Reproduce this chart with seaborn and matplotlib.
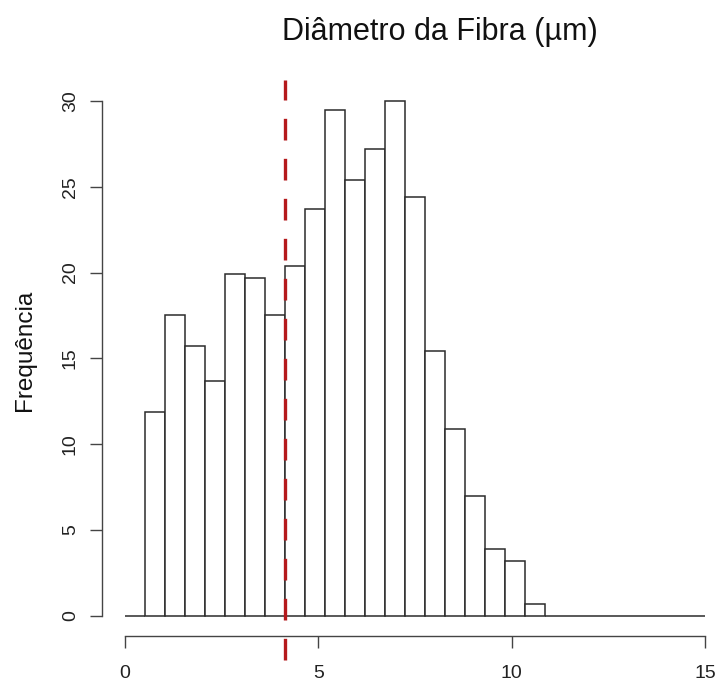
import numpy as np
import pandas as pd
import matplotlib
matplotlib.use("Agg")
import matplotlib.pyplot as plt
import seaborn as sns

# ---- data ----
bin_edges = list(np.linspace(0, 15, 30))    # 29 equal bins from 0 to 15
frequencies = [0, 11.9, 17.5, 15.7, 13.7, 19.9, 19.7, 17.5, 20.4, 23.7,
               29.5, 25.4, 27.2, 30.0, 24.4, 15.4, 10.9, 7.0, 3.9, 3.2,
               0.7, 0, 0, 0, 0, 0, 0, 0, 0]
mean_line = 4.14
x_ticks = [0, 5, 10, 15]
y_ticks = [0, 5, 10, 15, 20, 25, 30]
title = "Diâmetro da Fibra (µm)"
ylabel = "Frequência"

bin_mids = [(a + b) / 2 for a, b in zip(bin_edges[:-1], bin_edges[1:])]
df = pd.DataFrame({"diam": bin_mids, "freq": frequencies})

sns.set_theme(style="white")
plt.rcParams["font.family"] = ["Liberation Sans", "DejaVu Sans"]

W, H = 720, 686
fig = plt.figure(figsize=(W / 100, H / 100), dpi=100)
# axes region in pixels (R-style plot region)
left_px, right_px, top_px, bottom_px = 101.8, 728.2, 80.4, 636.3
ax = fig.add_axes([left_px / W, 1 - bottom_px / H,
                   (right_px - left_px) / W, (bottom_px - top_px) / H])

sns.histplot(data=df, x="diam", weights="freq", bins=bin_edges, ax=ax,
             color="white", edgecolor="#2b2b2b", linewidth=1.1, alpha=1,
             stat="count")

ax.axvline(mean_line, ymin=-0.043, ymax=1.0, color="#b5191c", lw=2.4,
           dashes=(6.5, 5.5), clip_on=False, zorder=5)

ax.set_xlim(-0.6, 15.6)
ax.set_ylim(-1.2, 31.2)
ax.set_xticks(x_ticks)
ax.set_yticks(y_ticks)
ax.set_xlabel("")
ax.set_ylabel(ylabel, fontsize=17.5, color="#111111")
ax.yaxis.set_label_coords(-(101.8 - 36) / (728.2 - 101.8), 0.515)

for s in ["top", "right"]:
    ax.spines[s].set_visible(False)
ax.spines["left"].set_bounds(0, 30)
ax.spines["bottom"].set_bounds(0, 15)
for s in ["left", "bottom"]:
    ax.spines[s].set_color("#444444")
    ax.spines[s].set_linewidth(1.0)

ax.tick_params(axis="both", direction="out", length=8.5, width=1.0,
               color="#444444", labelsize=14, labelcolor="#222222",
               left=True, bottom=True)
ax.tick_params(axis="x", pad=12)
ax.tick_params(axis="y", pad=8)
for lab in ax.get_yticklabels():
    lab.set_rotation(90)
    lab.set_va("center")
    lab.set_ha("right")

fig.text(440 / W, 1 - 32 / H, title, ha="center", va="center",
         fontsize=22, color="#111111")

fig.savefig("out.png", dpi=100, facecolor="white")
